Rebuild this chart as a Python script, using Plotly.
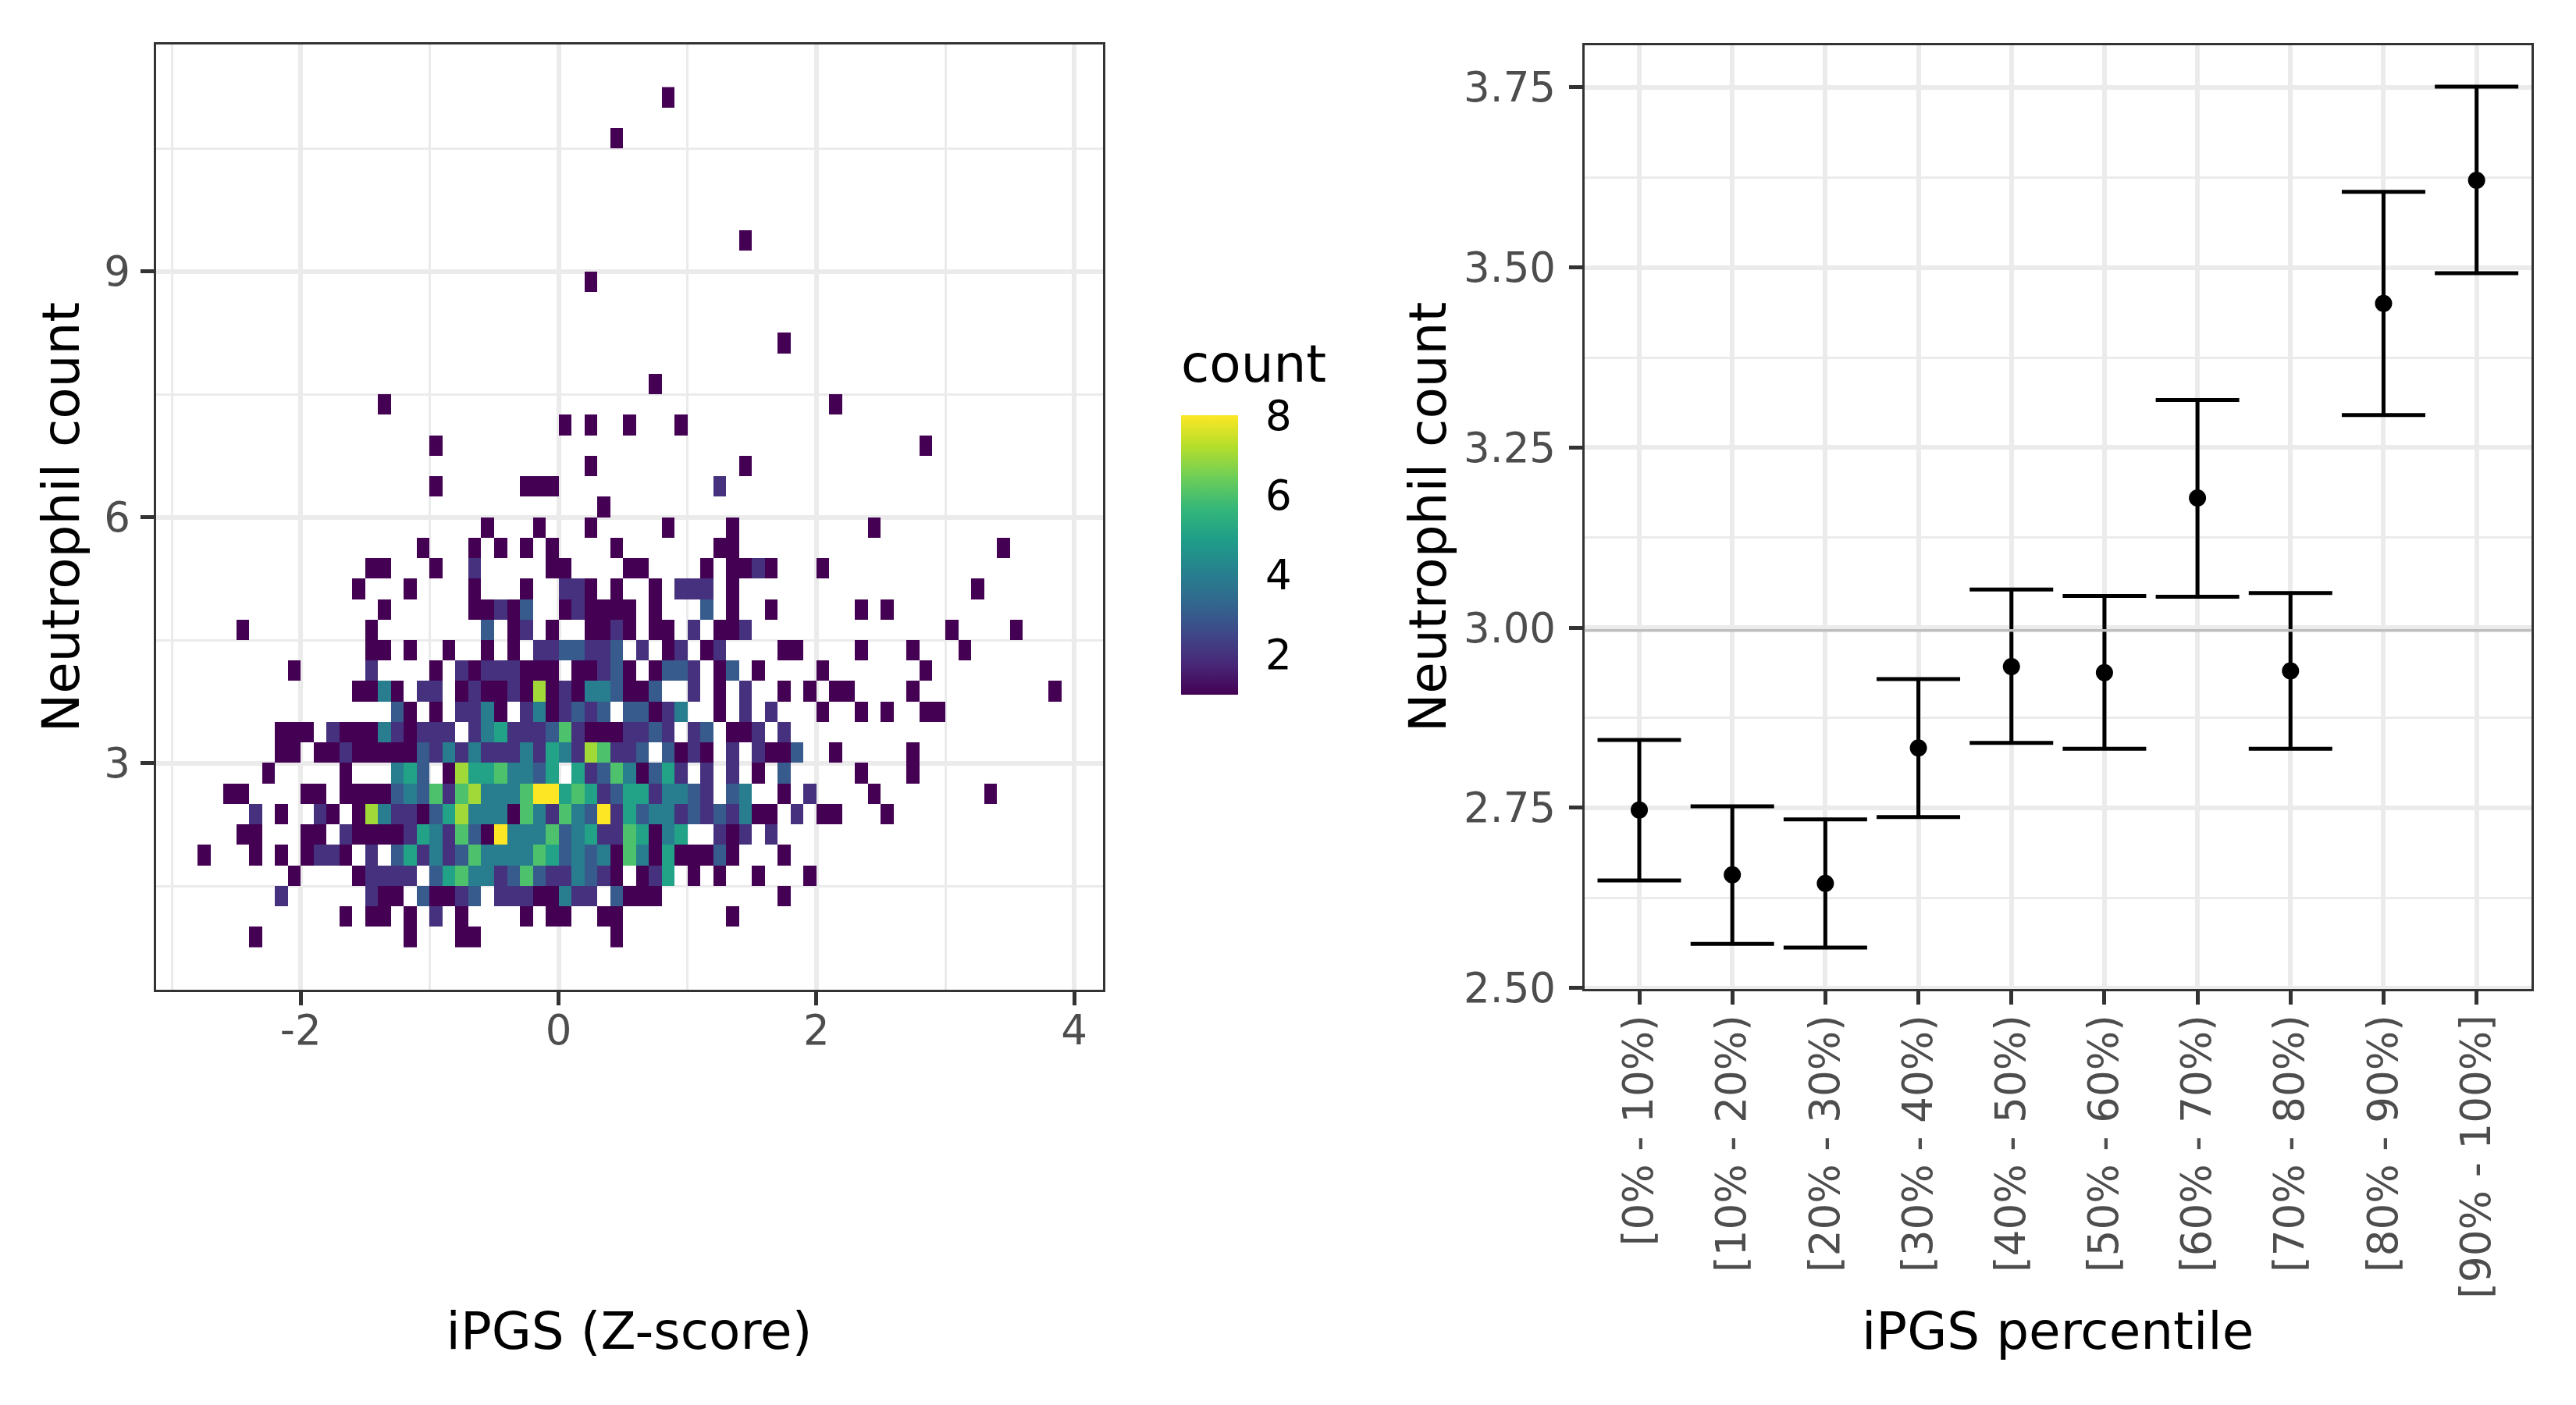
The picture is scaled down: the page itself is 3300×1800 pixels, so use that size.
import plotly.graph_objects as go

# ---- left panel: binned counts, one list per y bin (lower edge in the name).
# Each pair is [x bin lower edge in tenths of a Z-score, count]
row_11_00 = [[8, 1]]
row_10_50 = [[4, 1]]
row_09_25 = [[14, 1]]
row_08_75 = [[2, 1]]
row_08_00 = [[17, 1]]
row_07_50 = [[7, 1]]
row_07_25 = [[-14, 1], [21, 1]]
row_07_00 = [[0, 1], [2, 1], [5, 1], [9, 1]]
row_06_75 = [[-10, 1], [28, 1]]
row_06_50 = [[2, 1], [14, 1]]
row_06_25 = [[-10, 1], [-3, 1], [-2, 1], [-1, 1], [12, 2]]
row_06_00 = [[3, 1]]
row_05_75 = [[-6, 1], [-2, 1], [2, 1], [8, 1], [13, 1], [24, 1]]
row_05_50 = [[-11, 1], [-7, 1], [-5, 1], [-3, 1], [-1, 1], [4, 1], [12, 1], [13, 1], [34, 1]]
row_05_25 = [[-15, 1], [-14, 1], [-10, 1], [-7, 2], [-1, 1], [0, 1], [5, 1], [6, 1], [11, 1], [13, 1], [14, 1], [15, 2], [16, 1], [20, 1]]
row_05_00 = [[-16, 1], [-12, 1], [-7, 1], [-3, 1], [0, 2], [1, 2], [2, 1], [4, 1], [7, 1], [9, 2], [10, 2], [11, 2], [13, 1], [32, 1]]
row_04_75 = [[-14, 1], [-7, 1], [-6, 1], [-5, 2], [-4, 1], [-3, 3], [0, 1], [1, 2], [2, 1], [3, 1], [4, 1], [5, 1], [7, 1], [11, 3], [13, 1], [16, 1], [23, 1], [25, 1]]
row_04_50 = [[-25, 1], [-15, 1], [-6, 3], [-4, 1], [-3, 2], [-1, 1], [2, 1], [3, 1], [4, 2], [5, 1], [7, 1], [8, 1], [10, 2], [12, 1], [13, 1], [14, 2], [30, 1], [35, 1]]
row_04_25 = [[-15, 1], [-14, 1], [-12, 1], [-9, 1], [-6, 1], [-4, 1], [-2, 2], [-1, 2], [0, 3], [1, 3], [2, 2], [3, 2], [4, 3], [6, 2], [8, 1], [9, 2], [11, 1], [12, 2], [17, 1], [18, 1], [23, 1], [27, 1], [31, 1]]
row_04_00 = [[-21, 1], [-15, 2], [-10, 1], [-8, 2], [-7, 1], [-6, 2], [-5, 2], [-4, 2], [-3, 1], [-2, 1], [-1, 1], [1, 1], [2, 1], [3, 2], [4, 3], [5, 1], [7, 1], [8, 3], [9, 3], [10, 2], [12, 1], [13, 3], [15, 1], [20, 1], [28, 1]]
row_03_75 = [[-16, 1], [-15, 1], [-14, 4], [-13, 1], [-11, 2], [-10, 2], [-8, 1], [-7, 2], [-6, 1], [-5, 1], [-4, 2], [-3, 1], [-2, 7], [-1, 1], [0, 2], [1, 1], [2, 4], [3, 4], [4, 3], [5, 1], [6, 1], [7, 3], [10, 2], [12, 1], [14, 2], [17, 1], [19, 1], [21, 1], [22, 1], [27, 1], [38, 1]]
row_03_50 = [[-13, 3], [-12, 1], [-10, 1], [-8, 2], [-7, 2], [-6, 4], [-5, 1], [-3, 2], [-2, 4], [-1, 1], [0, 2], [1, 3], [2, 2], [3, 3], [5, 3], [6, 3], [7, 1], [8, 2], [9, 4], [12, 1], [14, 2], [16, 2], [20, 1], [23, 1], [25, 1], [28, 1], [29, 1]]
row_03_25 = [[-22, 1], [-21, 1], [-20, 1], [-18, 2], [-17, 1], [-16, 1], [-15, 1], [-14, 4], [-13, 2], [-12, 1], [-11, 2], [-10, 2], [-9, 2], [-7, 2], [-6, 4], [-5, 5], [-4, 2], [-3, 2], [-2, 2], [-1, 3], [0, 6], [1, 2], [2, 1], [3, 1], [4, 1], [5, 2], [6, 2], [7, 3], [8, 2], [10, 2], [11, 3], [13, 1], [14, 1], [15, 2], [17, 2]]
row_03_00 = [[-22, 1], [-21, 1], [-19, 1], [-18, 1], [-17, 2], [-16, 1], [-15, 1], [-14, 1], [-13, 1], [-12, 1], [-11, 3], [-10, 2], [-9, 4], [-8, 2], [-7, 4], [-6, 2], [-5, 2], [-4, 2], [-3, 4], [-2, 2], [-1, 5], [0, 4], [1, 2], [2, 7], [3, 6], [4, 2], [5, 2], [6, 3], [8, 3], [9, 1], [10, 2], [11, 1], [13, 2], [15, 2], [16, 1], [17, 1], [18, 3], [21, 1], [27, 1]]
row_02_75 = [[-23, 1], [-17, 1], [-13, 4], [-12, 5], [-11, 3], [-9, 1], [-8, 7], [-7, 5], [-6, 5], [-5, 6], [-4, 4], [-3, 4], [-2, 3], [-1, 5], [1, 5], [2, 2], [3, 3], [4, 6], [5, 4], [6, 1], [7, 3], [8, 5], [9, 2], [11, 2], [13, 2], [15, 1], [17, 3], [23, 1], [27, 1]]
row_02_50 = [[-26, 1], [-25, 1], [-20, 1], [-19, 1], [-17, 1], [-16, 1], [-15, 1], [-14, 1], [-13, 3], [-12, 4], [-11, 3], [-10, 6], [-9, 2], [-8, 6], [-7, 7], [-6, 4], [-5, 4], [-4, 4], [-3, 6], [-2, 8], [-1, 8], [0, 5], [1, 6], [2, 5], [3, 2], [4, 3], [5, 5], [6, 5], [7, 2], [8, 4], [9, 4], [10, 3], [11, 2], [13, 3], [14, 4], [17, 1], [19, 2], [24, 1], [33, 1]]
row_02_25 = [[-24, 2], [-22, 1], [-19, 2], [-18, 1], [-16, 1], [-15, 7], [-14, 4], [-13, 2], [-12, 2], [-11, 1], [-10, 3], [-9, 5], [-8, 7], [-7, 4], [-6, 4], [-5, 4], [-4, 1], [-3, 6], [-2, 4], [-1, 2], [0, 6], [1, 4], [2, 3], [3, 8], [4, 2], [5, 5], [6, 3], [7, 4], [8, 4], [9, 2], [10, 3], [11, 2], [12, 3], [13, 2], [14, 4], [15, 1], [16, 1], [18, 2], [20, 1], [21, 1], [25, 1]]
row_02_00 = [[-25, 1], [-24, 1], [-20, 1], [-19, 1], [-17, 2], [-16, 1], [-15, 1], [-14, 1], [-13, 1], [-12, 2], [-11, 5], [-10, 4], [-9, 2], [-8, 6], [-7, 3], [-6, 1], [-5, 8], [-4, 4], [-3, 4], [-2, 4], [-1, 6], [0, 3], [1, 4], [2, 5], [3, 2], [4, 2], [5, 6], [6, 5], [7, 1], [8, 4], [9, 5], [12, 2], [13, 1], [14, 2], [16, 2]]
row_01_75 = [[-28, 1], [-24, 1], [-22, 1], [-20, 1], [-19, 2], [-18, 2], [-17, 1], [-15, 2], [-13, 3], [-12, 5], [-11, 2], [-10, 4], [-9, 2], [-8, 3], [-7, 6], [-6, 4], [-5, 4], [-4, 4], [-3, 4], [-2, 6], [-1, 5], [0, 3], [1, 4], [2, 3], [3, 4], [4, 1], [5, 6], [6, 4], [7, 1], [8, 5], [9, 1], [10, 1], [11, 1], [12, 3], [13, 1], [17, 1]]
row_01_50 = [[-21, 1], [-16, 1], [-15, 2], [-14, 2], [-13, 2], [-12, 2], [-10, 3], [-9, 5], [-8, 6], [-7, 4], [-6, 4], [-5, 2], [-4, 3], [-3, 6], [-2, 3], [-1, 2], [0, 2], [1, 4], [2, 3], [3, 2], [4, 1], [6, 1], [7, 2], [8, 5], [10, 1], [12, 1], [15, 1], [19, 1]]
row_01_25 = [[-22, 2], [-15, 2], [-14, 1], [-13, 1], [-11, 3], [-10, 1], [-9, 1], [-8, 2], [-7, 3], [-5, 2], [-4, 2], [-3, 2], [-2, 1], [-1, 1], [0, 4], [1, 2], [2, 2], [4, 3], [5, 1], [6, 1], [7, 1], [17, 1]]
row_01_00 = [[-17, 1], [-15, 1], [-14, 1], [-12, 1], [-10, 2], [-8, 1], [-3, 1], [-1, 1], [0, 1], [3, 1], [4, 1], [13, 1]]
row_00_75 = [[-24, 1], [-12, 1], [-8, 1], [-7, 1], [4, 1]]

y_bin_low = [0.75, 1.0, 1.25, 1.5, 1.75, 2.0, 2.25, 2.5, 2.75, 3.0, 3.25, 3.5, 3.75, 4.0, 4.25,
             4.5, 4.75, 5.0, 5.25, 5.5, 5.75, 6.0, 6.25, 6.5, 6.75, 7.0, 7.25, 7.5, 8.0, 8.75,
             9.25, 10.5, 11.0]
count_rows = [row_00_75, row_01_00, row_01_25, row_01_50, row_01_75, row_02_00, row_02_25, row_02_50,
              row_02_75, row_03_00, row_03_25, row_03_50, row_03_75, row_04_00, row_04_25, row_04_50,
              row_04_75, row_05_00, row_05_25, row_05_50, row_05_75, row_06_00, row_06_25, row_06_50,
              row_06_75, row_07_00, row_07_25, row_07_50, row_08_00, row_08_75, row_09_25, row_10_50,
              row_11_00]

left_xticks = [-2, 0, 2, 4]
left_yticks = [3, 6, 9]
legend_ticks = [2, 4, 6, 8]

# ---- right panel
percentile_labels = ["[0% - 10%)", "[10% - 20%)", "[20% - 30%)", "[30% - 40%)", "[40% - 50%)",
                     "[50% - 60%)", "[60% - 70%)", "[70% - 80%)", "[80% - 90%)", "[90% - 100%]"]
mean_count = [2.747, 2.657, 2.645, 2.833, 2.946, 2.9375, 3.180, 2.940, 3.450, 3.621]
ci_low = [2.649, 2.561, 2.556, 2.737, 2.840, 2.832, 3.043, 2.832, 3.295, 3.492]
ci_high = [2.844, 2.752, 2.734, 2.9285, 3.053, 3.044, 3.316, 3.048, 3.605, 3.751]
overall_mean = 2.996
right_yticks = [2.5, 2.75, 3.0, 3.25, 3.5, 3.75]
right_yminor = [2.625, 2.875, 3.125, 3.375, 3.625]

# ---- build the regular grid for the heatmap from the sparse rows
K_MIN, K_MAX = -30, 40
Y_STEP = 0.25
x_centers = [(k + 0.5) / 10 for k in range(K_MIN, K_MAX)]
n_y = int((11.25 - 0.75) / Y_STEP)
y_centers = [0.75 + (j + 0.5) * Y_STEP for j in range(n_y)]
z = [[None] * len(x_centers) for _ in y_centers]
for low, row in zip(y_bin_low, count_rows):
    j = int(round((low - 0.75) / Y_STEP))
    for k, n in row:
        z[j][k - K_MIN] = n

W, H = 3300, 1800
GRID = "#EBEBEB"
INK = "#333333"
TICKTXT = "#4D4D4D"
FONT = "DejaVu Sans"
CB_L, CB_R, CB_T, CB_B = 1513, 1586, 532, 890
LEGEND_TITLE_Y = 466

fig = go.Figure()
fig.add_trace(go.Heatmap(
    x=x_centers, y=y_centers, z=z, zmin=1, zmax=8, zsmooth=False, hoverongaps=False,
    colorscale="Viridis", xaxis="x", yaxis="y",
    colorbar=dict(
        x=CB_L / W, xanchor="left", xpad=0, y=(H - CB_B) / H, yanchor="bottom", ypad=0,
        thicknessmode="pixels", thickness=CB_R - CB_L, lenmode="pixels", len=CB_B - CB_T,
        outlinewidth=0, borderwidth=0,
        tickmode="array", tickvals=legend_ticks, ticktext=[str(v) for v in legend_ticks],
        ticks="outside", ticklen=25, tickwidth=1, tickcolor="rgba(0,0,0,0)",
        tickfont=dict(family=FONT, size=53, color="#000000"),
    ),
))
fig.add_trace(go.Scatter(
    x=list(range(10)), y=mean_count, mode="markers", xaxis="x2", yaxis="y2", showlegend=False,
    marker=dict(color="#000000", size=22),
    error_y=dict(type="data", symmetric=False,
                 array=[h - m for h, m in zip(ci_high, mean_count)],
                 arrayminus=[m - l for m, l in zip(mean_count, ci_low)],
                 color="#000000", thickness=5, width=53.5),
))

shapes = [dict(type="line", xref="x2 domain", x0=0, x1=1, yref="y2", y0=overall_mean, y1=overall_mean,
               line=dict(color="#BEBEBE", width=3.6), layer="above")]
for v in legend_ticks:
    yp = (H - CB_B + (v - 1) / 7 * (CB_B - CB_T)) / H
    for a, b in ((CB_L, CB_L + 14), (CB_R - 14, CB_R)):
        shapes.append(dict(type="line", xref="paper", yref="paper", x0=a / W, x1=b / W, y0=yp, y1=yp,
                           line=dict(color="#FFFFFF", width=2), layer="above"))

common = dict(showline=True, linecolor=INK, linewidth=3, mirror=True, ticks="outside", ticklen=17,
              tickwidth=4.6, tickcolor=INK, gridcolor=GRID, gridwidth=5.7, zeroline=False, showgrid=True,
              tickfont=dict(family=FONT, size=53, color=TICKTXT))
title_font = dict(family=FONT, size=66, color="#000000")

fig.update_layout(
    width=W, height=H, margin=dict(l=0, r=0, t=0, b=0, autoexpand=False), paper_bgcolor="#FFFFFF",
    plot_bgcolor="#FFFFFF", showlegend=False, shapes=shapes,
    annotations=[dict(text="count", xref="paper", yref="paper", x=CB_L / W, xanchor="left",
                      y=1 - LEGEND_TITLE_Y / H, yanchor="middle", showarrow=False, borderpad=0, borderwidth=0,
                      font=title_font)],
    xaxis=dict(domain=[199.5 / W, 1412.5 / W], range=[-3.125, 4.22], tickmode="array", tickvals=left_xticks,
               ticktext=["-2", "0", "2", "4"], ticklabelstandoff=-14,
               minor=dict(tickvals=[-3, -1, 1, 3], showgrid=True, gridcolor=GRID, gridwidth=2.8, ticks=""),
               title=dict(text="iPGS (Z-score)", font=title_font, standoff=334), anchor="y", **common),
    yaxis=dict(domain=[1 - 1268 / H, 1 - 57 / H], range=[0.235, 11.77], tickmode="array", tickvals=left_yticks,
               ticktext=["3", "6", "9"], ticklabelstandoff=2,
               minor=dict(tickvals=[1.5, 4.5, 7.5, 10.5], showgrid=True, gridcolor=GRID, gridwidth=2.8, ticks=""),
               title=dict(text="Neutrophil count", font=title_font, standoff=11), anchor="x", **common),
    xaxis2=dict(domain=[2029.7 / W, 3242.6 / W], range=[-0.59, 9.587], tickmode="array",
                tickvals=list(range(10)), ticktext=percentile_labels, tickangle=-90, ticklabelstandoff=-8,
                title=dict(text="iPGS percentile", font=title_font, standoff=20), anchor="y2", **common),
    yaxis2=dict(domain=[1 - 1267 / H, 1 - 57.7 / H], range=[2.4985, 3.8087], tickmode="array",
                tickvals=right_yticks, ticktext=["2.50", "2.75", "3.00", "3.25", "3.50", "3.75"], ticklabelstandoff=6,
                minor=dict(tickvals=right_yminor, showgrid=True, gridcolor=GRID, gridwidth=2.8, ticks=""),
                title=dict(text="Neutrophil count", font=title_font, standoff=1), anchor="x2", **common),
)

fig.write_html("out.html", config={"displayModeBar": False},
               post_script="document.body.style.margin='0';document.body.style.overflow='hidden';")
